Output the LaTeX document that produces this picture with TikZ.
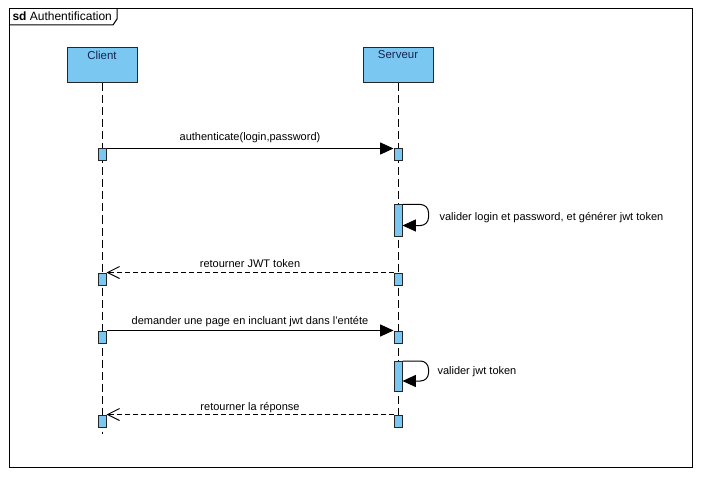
\documentclass[tikz,border=0pt]{standalone}
\usepackage{fontspec}
\setmainfont{Liberation Sans}
\usetikzlibrary{arrows.meta}
\definecolor{actblue}{RGB}{122,200,242}
\definecolor{headtxt}{RGB}{25,35,80}
\begin{document}
\begin{tikzpicture}[x=0.75pt,y=-0.75pt,line width=0.75pt,
  font=\fontsize{8.25pt}{10pt}\selectfont,
  head/.style={draw=black!85,fill=actblue,minimum width=52.5pt,minimum height=26.25pt,inner sep=0pt},
  headlbl/.style={text=headtxt,font=\fontsize{8.6pt}{10pt}\selectfont,inner sep=0pt},
  lifeline/.style={draw=black,dash pattern=on 6pt off 3pt},
  act/.style={draw=black!85,fill=actblue,minimum width=6pt,inner sep=0pt},
  actshort/.style={act,minimum height=9pt},
  sync/.style={-{Triangle[length=10pt,width=9pt]}},
  reply/.style={dash pattern=on 3.75pt off 2.25pt,-{Straight Barb[length=9pt,width=9pt]}},
  msglbl/.style={inner sep=0pt,text=black}]
\useasboundingbox (0,0) rectangle (702,477);
\fill[white] (0,0) rectangle (702,477);
% frame
\draw (9,9) rectangle (692,467);
\draw (9,25) -- (113,25) -- (117,19) -- (117,9);
\node[anchor=west,inner sep=0pt,font=\fontsize{9pt}{11pt}\selectfont] (title) at (12,16) {\textbf{sd} Authentification};
% heads
\node[head] (client) at (102,65.5) {};
\node[head] (server) at (398,65.5) {};
\node[headlbl] (clientlbl) at (102,55) {Client};
\node[headlbl] (serverlbl) at (398,55) {Serveur};
\coordinate (clientend) at (102,434);
\coordinate (serverend) at (398,431);
\draw[lifeline] (client.south) -- (clientend);
\draw[lifeline] (server.south) -- (serverend);
% activations
\node[actshort] (c1) at (102,155) {};
\node[actshort] (c2) at (102,279) {};
\node[actshort] (c3) at (102,337) {};
\node[actshort] (c4) at (102,421) {};
\node[actshort] (s1) at (398,155) {};
\node[act,minimum height=23.25pt] (s2) at (398,220.5) {};
\node[actshort] (s3) at (398,279) {};
\node[actshort] (s4) at (398,337) {};
\node[act,minimum height=22.5pt] (s5) at (398,376.5) {};
\node[actshort] (s6) at (398,421) {};
% messages
\draw[sync] (c1.north east) -- (s1.north west)
  node[msglbl,midway,yshift=8.25pt] (m1) {authenticate(login,password)};
\draw[sync,rounded corners=6pt] (s2.north east) -- ++(26,0) -- ++(0,21) -- ++(-26,0);
\node[msglbl,anchor=west] (m2) at (439,218) {valider login et password, et générer jwt token};
\draw[reply] (s3.north west) -- (c2.north east)
  node[msglbl,midway,yshift=6.75pt] (m3) {retourner JWT token};
\draw[sync] (c3.north east) -- (s4.north west)
  node[msglbl,midway,yshift=6.75pt] (m4) {demander une page en incluant jwt dans l'entéte};
\draw[sync,rounded corners=6pt] (s5.north east) -- ++(26,0) -- ++(0,20) -- ++(-26,0);
\node[msglbl,anchor=west] (m5) at (437,371.5) {valider jwt token};
\draw[reply] (s6.north west) -- (c4.north east)
  node[msglbl,midway,yshift=5.5pt] (m6) {retourner la réponse};
\end{tikzpicture}
\end{document}
